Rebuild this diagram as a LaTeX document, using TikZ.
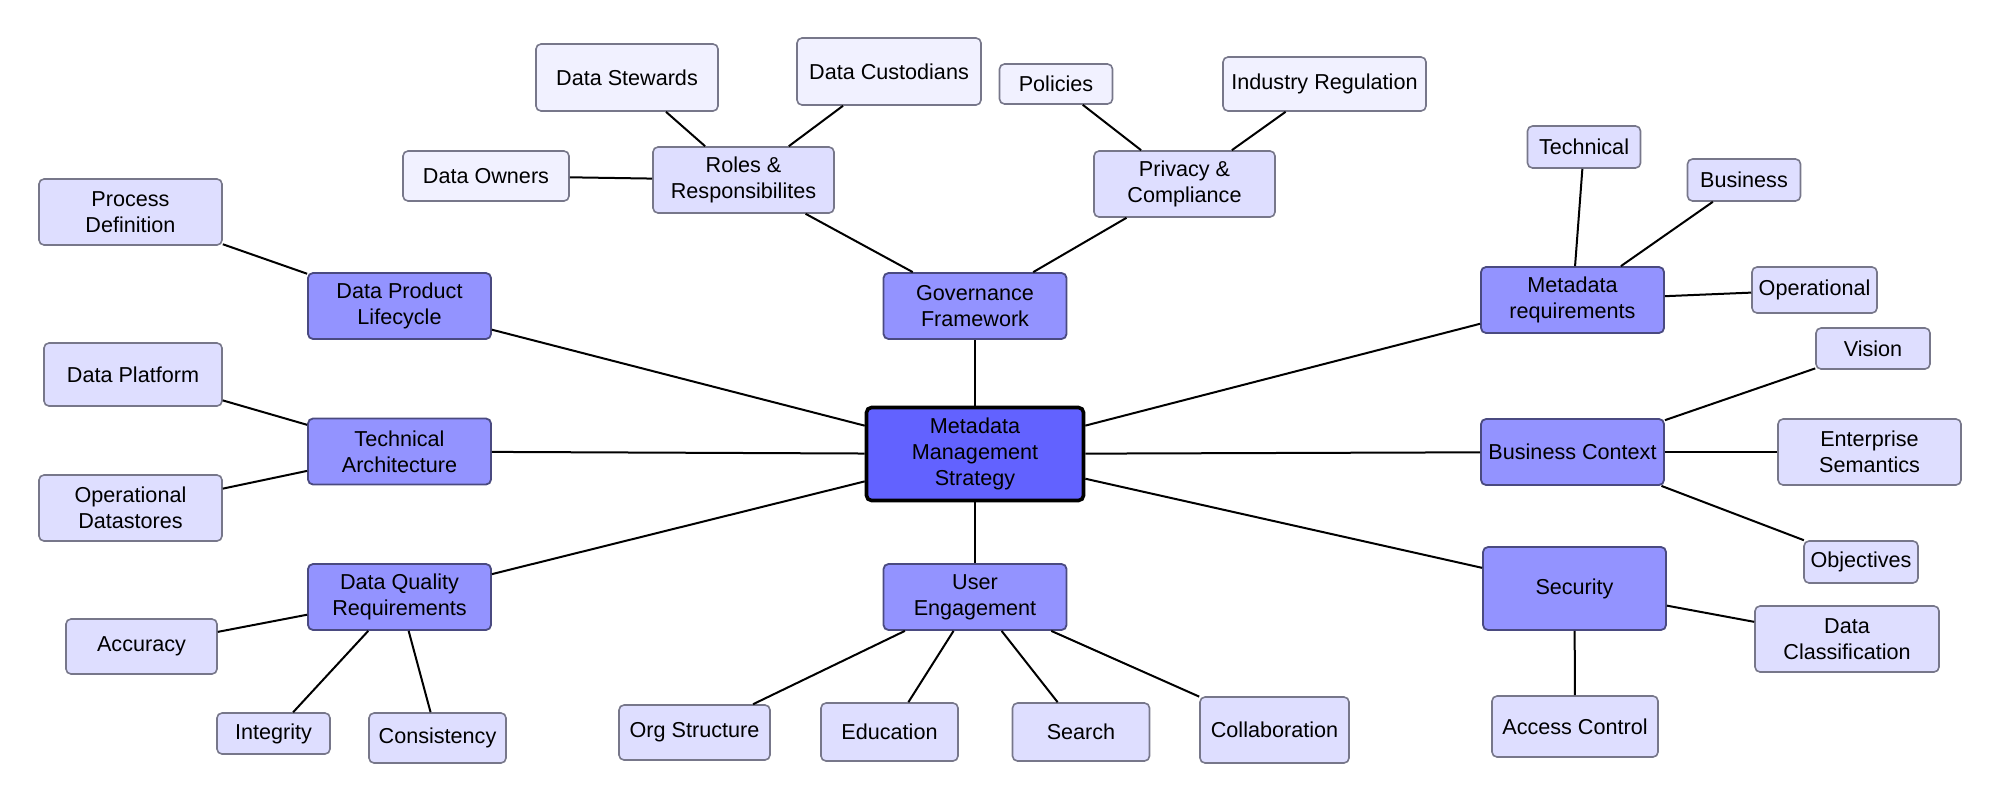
\documentclass[tikz,border=0pt]{standalone}
\usepackage{fontspec}
\setmainfont{Liberation Sans}

\definecolor{rootfill}{HTML}{6262FF}
\definecolor{branchfill}{HTML}{9393FF}
\definecolor{branchline}{HTML}{4A4A80}
\definecolor{topicfill}{HTML}{DEDEFF}
\definecolor{detailfill}{HTML}{F1F1FF}
\definecolor{leafline}{HTML}{77778A}

\begin{document}
\begin{tikzpicture}[
    x=0.5pt, y=-0.5pt,
    every node/.style={font=\fontsize{10.8}{12.8}\selectfont, align=center, inner sep=0pt, rounded corners=2.5pt},
    root/.style={draw=black, line width=1.8pt, fill=rootfill, minimum width=108.5pt, minimum height=46.5pt},
    branch/.style={draw=branchline, line width=0.9pt, fill=branchfill, minimum width=91.5pt, minimum height=33pt},
    topic/.style={draw=leafline, line width=0.8pt, fill=topicfill},
    detail/.style={topic, fill=detailfill},
    link/.style={black, line width=1pt},
]
\useasboundingbox (0,0) rectangle (2000,803);

% centre and main branches
\node[root] (mms) at (975,454) {Metadata\\Management\\Strategy};
\node[branch] (gov) at (975,306) {Governance\\Framework};
\node[branch] (dpl) at (399.5,306) {Data Product\\Lifecycle};
\node[branch] (tech) at (399.5,451.5) {Technical\\Architecture};
\node[branch] (dq) at (399.5,597) {Data Quality\\Requirements};
\node[branch] (ue) at (975,597) {User\\Engagement};
\node[branch] (meta) at (1572.5,300) {Metadata\\requirements};
\node[branch] (bc) at (1572.5,452) {Business Context};
\node[branch, minimum height=41.5pt] (sec) at (1574.5,588.5) {Security};

\foreach \b in {gov,dpl,tech,dq,ue,meta,bc,sec}
    \draw[link] (mms) -- (\b);

% second level topics
\foreach \id/\up/\xx/\yy/\ww/\hh/\txt in {
    roles/gov/743.5/180/181/66/{Roles \&\\Responsibilites},
    priv/gov/1184.5/184/181/66/{Privacy \&\\Compliance},
    procdef/dpl/130.5/212/183/66/{Process\\Definition},
    platform/tech/133/374.5/178/63/{Data Platform},
    opstores/tech/130.5/508/183/66/{Operational\\Datastores},
    accuracy/dq/141.5/646.5/151/55/{Accuracy},
    integrity/dq/273.5/733.5/113/41/{Integrity},
    consist/dq/437.5/738/137/50/{Consistency},
    org/ue/694.5/732.5/151/55/{Org Structure},
    edu/ue/889.5/732/137/58/{Education},
    search/ue/1081/732/137/58/{Search},
    collab/ue/1274.5/730/149/66/{Collaboration},
    techmd/meta/1584/147/113/42/{Technical},
    busmd/meta/1744/180/113/42/{Business},
    opmd/meta/1814.5/290/125/46/{Operational},
    vision/bc/1873/348.5/114/41/{Vision},
    semantics/bc/1869.5/452/183/66/{Enterprise\\Semantics},
    objectives/bc/1861/562/114/42/{Objectives},
    classif/sec/1847/639/184/66/{Data\\Classification},
    access/sec/1575/726.5/166/61/{Access Control}} {
    \node[topic, minimum width=\ww*0.5pt, minimum height=\hh*0.5pt] (\id) at (\xx,\yy) {\txt};
    \draw[link] (\up) -- (\id);
}

% third level details
\foreach \id/\up/\xx/\yy/\ww/\hh/\txt in {
    stewards/roles/627/77.5/182/67/{Data Stewards},
    custodians/roles/889/71.5/184/67/{Data Custodians},
    owners/roles/486/176/166/50/{Data Owners},
    policies/priv/1056/84/113/40/{Policies},
    industry/priv/1324.5/84/203/54/{Industry Regulation}} {
    \node[detail, minimum width=\ww*0.5pt, minimum height=\hh*0.5pt] (\id) at (\xx,\yy) {\txt};
    \draw[link] (\up) -- (\id);
}
\end{tikzpicture}
\end{document}
